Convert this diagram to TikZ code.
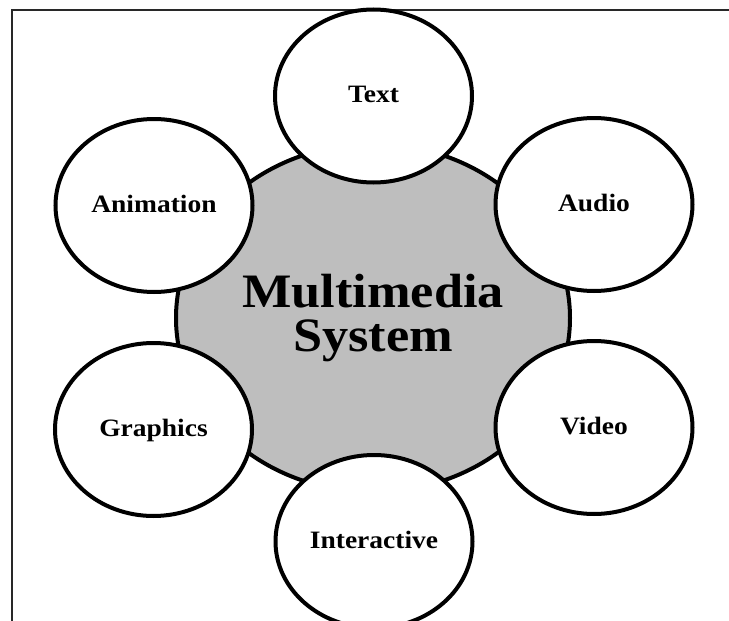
\documentclass[tikz,border=0pt]{standalone}
\usepackage{fontspec}
\setmainfont{Liberation Serif}
\newfontfamily\labelfont{Liberation Serif}[FakeStretch=1.1]
\newfontfamily\mainfont{Liberation Serif}[FakeStretch=1.09]
\usetikzlibrary{shapes.geometric}
\definecolor{hubgray}{RGB}{190,190,190}
\definecolor{framegray}{RGB}{40,40,40}
\tikzset{
  hub/.style={ellipse, draw=black, line width=4pt, fill=hubgray, inner sep=0pt,
    minimum width=394pt, minimum height=348pt, align=center,
    font=\mainfont\bfseries\fontsize{48}{44}\selectfont},
  item/.style={ellipse, draw=black, line width=4pt, fill=white, inner sep=0pt,
    minimum width=197pt, minimum height=173pt, text height=13pt, text depth=0pt,
    font=\labelfont\bfseries\fontsize{25}{30}\selectfont},
  frameline/.style={draw=framegray, line width=2pt}
}
\begin{document}
\begin{tikzpicture}[x=1pt,y=-1pt]
\useasboundingbox (0,0) rectangle (729,621);
\coordinate (fb) at (11.5,621);
\coordinate (fc) at (11.5,9.5);
\coordinate (fr) at (729,9.5);
\draw[frameline] (fb) -- (fc) -- (fr);
\node[hub] (hub) at (373,318) {Multimedia\\System};
\node[item] (text) at (373.5,96) {Text};
\node[item] (audio) at (594,204.5) {Audio};
\node[item] (video) at (594,427.5) {Video};
\node[item] (inter) at (374,541.5) {Interactive};
\node[item] (graph) at (153.5,429.5) {Graphics};
\node[item] (anim) at (154,205.5) {Animation};
\end{tikzpicture}
\end{document}
